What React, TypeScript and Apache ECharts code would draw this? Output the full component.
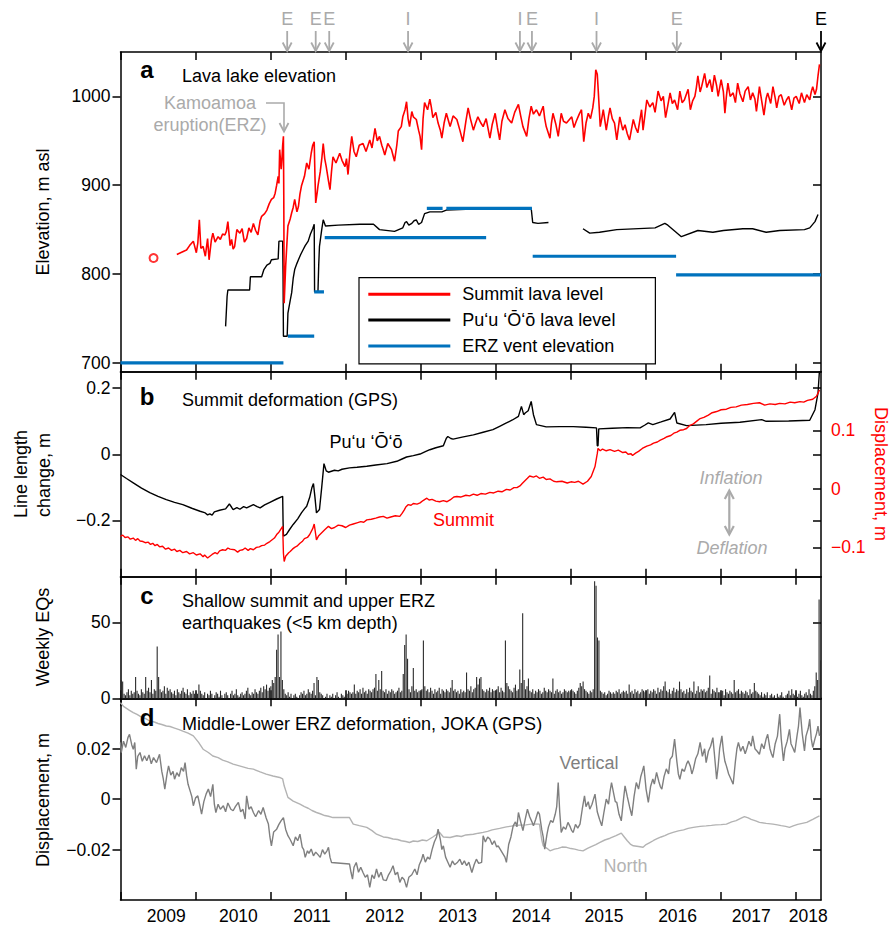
import React, { useEffect, useRef } from 'react';
import * as echarts from 'echarts';

const FONT = '"Liberation Sans", Arial, Helvetica, sans-serif';
const X_MIN = 2009;
const X_MAX = 2018.33;

const yearTicks = [2009, 2010, 2011, 2012, 2013, 2014, 2015, 2016, 2017, 2018];
const yearLabelPositions = [2009.61, 2010.57, 2011.55, 2012.52, 2013.49, 2014.47, 2015.44, 2016.42, 2017.4, 2018.16];
const yearLabels = ['2009', '2010', '2011', '2012', '2013', '2014', '2015', '2016', '2017', '2018'];

// top event arrows
const eventYears = [2011.22, 2011.6, 2011.78, 2012.83, 2014.32, 2014.48, 2015.34, 2016.41, 2018.33];
const eventKinds = ['E', 'E', 'E', 'I', 'I', 'E', 'I', 'E', 'E'];
const eventCurrent = [false, false, false, false, false, false, false, false, true];

// Panel a: summit lava lake level (m asl)
const summitLavaFirst: [number, number][] = [[2009.44, 818]];
const summitLava: [number, number][] = [
  [2009.75,822],[2009.8,824],[2009.85,826],[2009.88,827],[2009.92,832],[2009.97,837],[2010.01,824],[2010.03,835],[2010.05,861],[2010.07,829],[2010.1,831],[2010.13,820],[2010.16,840],[2010.18,816],[2010.21,838],[2010.23,846],[2010.26,836],[2010.3,842],[2010.33,839],[2010.36,845],[2010.39,844],[2010.41,848],[2010.43,859],[2010.46,832],[2010.48,839],[2010.5,828],[2010.52,831],[2010.55,850],[2010.59,846],[2010.62,851],[2010.65,836],[2010.68,840],[2010.71,852],[2010.74,847],[2010.77,857],[2010.8,849],[2010.83,844],[2010.86,860],[2010.88,865],[2010.92,868],[2010.95,872],[2010.98,879],[2011.01,884],[2011.04,886],[2011.06,891],[2011.08,900],[2011.1,910],[2011.11,902],[2011.12,940],[2011.14,918],[2011.15,929],[2011.16,945],[2011.17,955],[2011.175,884],[2011.18,767],[2011.2,809],[2011.22,840],[2011.23,854],[2011.26,862],[2011.28,869],[2011.3,875],[2011.32,884],[2011.35,870],[2011.37,876],[2011.39,890],[2011.41,899],[2011.45,910],[2011.48,925],[2011.51,918],[2011.54,936],[2011.56,945],[2011.58,949],[2011.59,910],[2011.6,880],[2011.62,892],[2011.63,899],[2011.66,915],[2011.68,929],[2011.7,947],[2011.72,930],[2011.74,921],[2011.77,905],[2011.79,895],[2011.81,915],[2011.83,932],[2011.87,925],[2011.92,936],[2011.95,928],[2011.99,921],[2012.01,930],[2012.03,912],[2012.06,940],[2012.08,955],[2012.11,938],[2012.14,932],[2012.18,945],[2012.23,947],[2012.27,938],[2012.32,951],[2012.35,942],[2012.39,964],[2012.42,950],[2012.45,955],[2012.48,945],[2012.5,940],[2012.52,934],[2012.56,947],[2012.61,940],[2012.65,927],[2012.68,945],[2012.7,961],[2012.74,966],[2012.76,977],[2012.79,985],[2012.81,994],[2012.83,975],[2012.85,966],[2012.88,983],[2012.9,977],[2012.94,974],[2012.97,962],[2012.99,955],[2013.01,940],[2013.03,975],[2013.05,993],[2013.09,985],[2013.12,997],[2013.14,988],[2013.16,976],[2013.2,982],[2013.23,970],[2013.26,962],[2013.28,953],[2013.31,970],[2013.34,981],[2013.37,972],[2013.39,966],[2013.43,978],[2013.48,974],[2013.52,962],[2013.56,949],[2013.6,972],[2013.63,987],[2013.66,975],[2013.7,962],[2013.73,970],[2013.76,977],[2013.8,970],[2013.83,966],[2013.87,975],[2013.92,953],[2013.95,968],[2013.99,981],[2014.02,965],[2014.05,951],[2014.08,972],[2014.12,985],[2014.16,975],[2014.21,970],[2014.25,982],[2014.3,991],[2014.33,978],[2014.36,966],[2014.41,955],[2014.44,975],[2014.47,989],[2014.5,980],[2014.54,985],[2014.58,978],[2014.63,989],[2014.65,975],[2014.67,966],[2014.72,953],[2014.74,970],[2014.76,981],[2014.8,968],[2014.83,955],[2014.87,981],[2014.9,972],[2014.94,970],[2015.01,977],[2015.04,965],[2015.07,972],[2015.11,980],[2015.14,985],[2015.17,949],[2015.2,970],[2015.23,981],[2015.26,975],[2015.29,987],[2015.31,1000],[2015.33,1030],[2015.35,1025],[2015.36,1011],[2015.39,966],[2015.41,975],[2015.43,985],[2015.47,962],[2015.5,978],[2015.52,987],[2015.55,975],[2015.58,970],[2015.61,951],[2015.65,977],[2015.69,962],[2015.72,968],[2015.75,958],[2015.78,951],[2015.83,974],[2015.86,965],[2015.89,959],[2015.94,985],[2015.96,962],[2016.01,996],[2016.05,988],[2016.09,993],[2016.12,982],[2016.16,1006],[2016.2,995],[2016.23,1000],[2016.26,976],[2016.29,990],[2016.32,1004],[2016.35,992],[2016.38,996],[2016.42,985],[2016.45,1006],[2016.48,993],[2016.51,996],[2016.56,1008],[2016.59,985],[2016.62,995],[2016.65,1000],[2016.67,1010],[2016.69,1023],[2016.72,1005],[2016.74,1011],[2016.78,1026],[2016.81,1010],[2016.85,1019],[2016.88,1005],[2016.91,1024],[2016.94,1012],[2016.96,1000],[2017.0,1019],[2017.03,1005],[2017.05,981],[2017.07,1000],[2017.09,1015],[2017.12,1000],[2017.16,1004],[2017.19,993],[2017.22,1015],[2017.25,1003],[2017.29,994],[2017.32,1006],[2017.36,1011],[2017.39,996],[2017.42,1004],[2017.45,997],[2017.47,983],[2017.51,1011],[2017.54,995],[2017.57,979],[2017.6,998],[2017.62,1004],[2017.66,992],[2017.69,1011],[2017.72,998],[2017.74,987],[2017.77,1000],[2017.8,1002],[2017.84,990],[2017.87,996],[2017.9,1000],[2017.94,985],[2017.97,998],[2018.0,1000],[2018.04,992],[2018.07,1004],[2018.11,993],[2018.14,1002],[2018.18,996],[2018.2,1005],[2018.22,1011],[2018.25,1002],[2018.27,1008],[2018.29,1023],[2018.31,1036]
];

// Pu'u O'o lava level (two pieces)
const puuOoLavaA: [number, number][] = [
  [2010.4,741],[2010.42,775],[2010.43,782],[2010.72,782],[2010.73,797],[2010.88,797],[2010.91,805],[2010.95,810],[2010.99,812],[2011.01,816],[2011.1,817],[2011.11,837],[2011.16,837],[2011.165,800],[2011.17,730],[2011.22,730],[2011.23,756],[2011.26,770],[2011.28,779],[2011.3,795],[2011.32,805],[2011.35,812],[2011.37,816],[2011.4,822],[2011.43,827],[2011.46,832],[2011.5,837],[2011.53,845],[2011.56,851],[2011.58,856],[2011.585,780],[2011.63,780],[2011.64,810],[2011.65,831],[2011.68,850],[2011.7,861],[2011.73,854],[2011.9,855],[2012.19,856],[2012.37,856],[2012.45,850],[2012.65,848],[2012.76,852],[2012.79,858],[2012.81,859],[2012.84,855],[2012.88,857],[2012.91,860],[2012.94,861],[2012.97,856],[2013.01,858],[2013.05,868],[2013.12,870],[2013.28,870],[2013.34,872],[2013.6,873],[2014.0,873],[2014.47,874],[2014.49,858],[2014.56,857],[2014.7,858]
];
const puuOoLavaB: [number, number][] = [
  [2015.16,851],[2015.25,846],[2015.38,847],[2015.61,850],[2016.12,852],[2016.25,857],[2016.29,855],[2016.47,842],[2016.69,849],[2016.89,847],[2017.03,849],[2017.29,851],[2017.42,851],[2017.6,847],[2017.78,849],[2018.11,850],[2018.18,852],[2018.25,859],[2018.29,867]
];

// ERZ vent elevation segments
const erzVentStart = [2009.0, 2011.23, 2011.58, 2011.72, 2013.08, 2013.34, 2014.49, 2016.4];
const erzVentEnd = [2011.17, 2011.58, 2011.71, 2013.87, 2013.29, 2014.48, 2016.4, 2018.33];
const erzVentElev = [700, 730, 780, 841, 874, 874, 820, 799];

// Panel b: summit GPS
const gpsPuuOoLine: [number, number][] = [
  [2009.0,-0.061],[2009.08,-0.073],[2009.17,-0.086],[2009.28,-0.102],[2009.39,-0.116],[2009.5,-0.127],[2009.61,-0.137],[2009.72,-0.145],[2009.83,-0.152],[2009.95,-0.163],[2010.06,-0.172],[2010.12,-0.176],[2010.16,-0.183],[2010.19,-0.18],[2010.22,-0.184],[2010.25,-0.174],[2010.32,-0.169],[2010.4,-0.165],[2010.45,-0.15],[2010.48,-0.16],[2010.5,-0.167],[2010.55,-0.161],[2010.59,-0.166],[2010.64,-0.158],[2010.68,-0.162],[2010.77,-0.152],[2010.82,-0.158],[2010.86,-0.162],[2010.92,-0.153],[2010.99,-0.145],[2011.08,-0.135],[2011.16,-0.127],[2011.165,-0.2],[2011.17,-0.247],[2011.21,-0.242],[2011.25,-0.228],[2011.3,-0.212],[2011.36,-0.195],[2011.41,-0.177],[2011.45,-0.165],[2011.48,-0.157],[2011.52,-0.13],[2011.55,-0.1],[2011.57,-0.088],[2011.59,-0.13],[2011.61,-0.177],[2011.65,-0.167],[2011.68,-0.1],[2011.71,-0.028],[2011.74,-0.05],[2011.77,-0.054],[2011.85,-0.048],[2011.9,-0.05],[2011.95,-0.045],[2012.05,-0.041],[2012.15,-0.039],[2012.28,-0.036],[2012.4,-0.032],[2012.55,-0.028],[2012.68,-0.021],[2012.75,-0.014],[2012.81,-0.008],[2012.9,-0.004],[2012.99,0.001],[2013.06,0.008],[2013.12,0.014],[2013.2,0.02],[2013.3,0.026],[2013.34,0.049],[2013.36,0.054],[2013.4,0.048],[2013.43,0.046],[2013.55,0.052],[2013.7,0.059],[2013.83,0.067],[2013.96,0.075],[2014.05,0.085],[2014.14,0.095],[2014.22,0.104],[2014.3,0.115],[2014.34,0.145],[2014.37,0.12],[2014.39,0.125],[2014.43,0.132],[2014.47,0.16],[2014.5,0.12],[2014.54,0.09],[2014.67,0.083],[2014.85,0.084],[2015.03,0.084],[2015.2,0.082],[2015.34,0.08],[2015.35,0.026],[2015.36,0.026],[2015.37,0.077],[2015.55,0.079],[2015.75,0.081],[2015.92,0.08],[2015.98,0.088],[2016.03,0.095],[2016.09,0.09],[2016.2,0.098],[2016.32,0.107],[2016.38,0.127],[2016.41,0.095],[2016.54,0.087],[2016.8,0.09],[2017.0,0.094],[2017.25,0.097],[2017.54,0.105],[2017.6,0.1],[2017.9,0.101],[2018.18,0.103],[2018.25,0.135],[2018.29,0.185],[2018.31,0.255]
];
const gpsSummitDisp: [number, number][] = [
  [2009.0,-0.081],[2009.03,-0.079],[2009.06,-0.083],[2009.1,-0.082],[2009.13,-0.086],[2009.17,-0.084],[2009.2,-0.088],[2009.23,-0.085],[2009.26,-0.089],[2009.3,-0.09],[2009.33,-0.092],[2009.37,-0.091],[2009.4,-0.095],[2009.43,-0.093],[2009.46,-0.097],[2009.49,-0.095],[2009.52,-0.099],[2009.56,-0.098],[2009.6,-0.103],[2009.64,-0.101],[2009.68,-0.105],[2009.72,-0.103],[2009.75,-0.107],[2009.79,-0.105],[2009.83,-0.109],[2009.88,-0.107],[2009.92,-0.111],[2009.97,-0.109],[2010.01,-0.113],[2010.06,-0.111],[2010.1,-0.116],[2010.12,-0.113],[2010.16,-0.118],[2010.19,-0.115],[2010.22,-0.112],[2010.26,-0.109],[2010.29,-0.111],[2010.32,-0.106],[2010.36,-0.104],[2010.4,-0.105],[2010.43,-0.101],[2010.46,-0.103],[2010.52,-0.104],[2010.56,-0.108],[2010.59,-0.105],[2010.63,-0.104],[2010.66,-0.101],[2010.7,-0.105],[2010.73,-0.102],[2010.77,-0.104],[2010.81,-0.1],[2010.85,-0.099],[2010.88,-0.097],[2010.92,-0.096],[2010.95,-0.093],[2010.99,-0.09],[2011.02,-0.087],[2011.05,-0.084],[2011.08,-0.078],[2011.11,-0.074],[2011.13,-0.07],[2011.16,-0.064],[2011.17,-0.11],[2011.18,-0.124],[2011.2,-0.115],[2011.22,-0.112],[2011.24,-0.109],[2011.26,-0.107],[2011.29,-0.103],[2011.32,-0.1],[2011.35,-0.098],[2011.39,-0.093],[2011.42,-0.09],[2011.45,-0.085],[2011.49,-0.083],[2011.52,-0.078],[2011.56,-0.068],[2011.58,-0.06],[2011.61,-0.087],[2011.64,-0.08],[2011.68,-0.075],[2011.72,-0.07],[2011.77,-0.064],[2011.81,-0.068],[2011.85,-0.066],[2011.9,-0.062],[2011.95,-0.063],[2012.0,-0.066],[2012.05,-0.062],[2012.1,-0.06],[2012.15,-0.058],[2012.2,-0.056],[2012.24,-0.057],[2012.28,-0.053],[2012.34,-0.052],[2012.4,-0.05],[2012.45,-0.048],[2012.5,-0.047],[2012.55,-0.05],[2012.6,-0.048],[2012.66,-0.046],[2012.72,-0.047],[2012.75,-0.042],[2012.78,-0.036],[2012.8,-0.031],[2012.83,-0.027],[2012.87,-0.028],[2012.9,-0.025],[2012.95,-0.026],[2012.99,-0.024],[2013.03,-0.02],[2013.08,-0.016],[2013.11,-0.019],[2013.15,-0.018],[2013.2,-0.021],[2013.25,-0.022],[2013.3,-0.02],[2013.35,-0.022],[2013.39,-0.019],[2013.44,-0.014],[2013.48,-0.013],[2013.53,-0.014],[2013.6,-0.011],[2013.65,-0.012],[2013.7,-0.009],[2013.75,-0.011],[2013.8,-0.008],[2013.86,-0.009],[2013.92,-0.006],[2013.97,-0.007],[2014.03,-0.004],[2014.08,-0.005],[2014.14,-0.001],[2014.19,-0.002],[2014.24,0.002],[2014.28,0.002],[2014.32,0.005],[2014.35,0.009],[2014.38,0.013],[2014.42,0.018],[2014.45,0.022],[2014.5,0.02],[2014.54,0.022],[2014.58,0.018],[2014.63,0.02],[2014.67,0.016],[2014.72,0.017],[2014.77,0.013],[2014.81,0.012],[2014.88,0.013],[2014.95,0.01],[2015.0,0.012],[2015.05,0.011],[2015.1,0.013],[2015.16,0.008],[2015.22,0.013],[2015.27,0.021],[2015.32,0.038],[2015.35,0.06],[2015.36,0.069],[2015.39,0.065],[2015.42,0.068],[2015.47,0.065],[2015.52,0.067],[2015.58,0.064],[2015.63,0.066],[2015.69,0.062],[2015.73,0.063],[2015.76,0.059],[2015.8,0.06],[2015.82,0.057],[2015.86,0.061],[2015.9,0.064],[2015.95,0.069],[2016.01,0.073],[2016.06,0.075],[2016.1,0.078],[2016.15,0.08],[2016.19,0.083],[2016.24,0.086],[2016.28,0.089],[2016.33,0.091],[2016.37,0.095],[2016.41,0.097],[2016.45,0.1],[2016.5,0.101],[2016.54,0.103],[2016.58,0.108],[2016.63,0.111],[2016.68,0.116],[2016.72,0.12],[2016.77,0.122],[2016.83,0.126],[2016.88,0.13],[2016.94,0.132],[2017.0,0.135],[2017.07,0.136],[2017.13,0.139],[2017.2,0.14],[2017.27,0.143],[2017.35,0.144],[2017.43,0.146],[2017.51,0.147],[2017.58,0.143],[2017.65,0.145],[2017.72,0.144],[2017.78,0.146],[2017.85,0.145],[2017.92,0.148],[2017.98,0.147],[2018.05,0.149],[2018.1,0.148],[2018.15,0.151],[2018.22,0.153],[2018.27,0.158],[2018.31,0.169]
];

// Panel c: weekly earthquakes, weeks from 2009-01-01
const eqStartYear = 2009.0;
const weeklyEQs2009 = [12,11,3,2,4,6,2,5,3,4,14,5,3,2,6,4,3,14,5,7,4,12,3,6,5,34,14,6,4,5,8,3,7,5,6,4,3,5,2,6,4,3,5,7,4,3,6,2,4,3,5,3];
const weeklyEQs2010 = [4,3,9,5,3,2,4,0,3,2,5,3,0,2,4,3,1,5,2,0,3,4,2,0,3,5,2,3,6,2,1,3,4,2,3,5,7,3,2,4,3,6,4,3,5,7,4,8,6,9,5,7];
const weeklyEQs2011 = [8,12,10,14,32,42,14,44,12,6,3,2,4,1,3,0,2,3,1,0,2,4,3,5,2,3,6,4,3,5,10,2,14,12,4,3,2,0,1,3,0,2,1,3,0,2,4,1,0,3,2,1];
const weeklyEQs2012 = [2,3,5,4,3,4,9,3,5,4,6,3,7,4,5,3,6,5,4,6,7,16,5,12,6,18,5,4,6,3,5,4,6,5,3,4,5,7,4,5,16,35,42,26,6,4,8,20,5,6,4,5];
const weeklyEQs2013 = [4,6,38,8,5,6,4,7,5,3,6,4,5,7,3,6,5,4,6,5,4,7,12,5,6,4,5,3,6,4,5,4,17,6,5,8,4,6,7,14,9,13,14,6,5,4,6,5,7,4,6,5];
const weeklyEQs2014 = [5,6,8,4,7,5,4,38,10,8,6,5,4,7,9,5,6,19,10,56,12,6,8,13,5,4,6,3,5,4,6,5,3,4,7,5,4,6,5,4,13,3,5,6,4,5,3,4,6,5,4,5];
const weeklyEQs2015 = [4,6,5,4,3,5,7,10,8,11,6,5,4,3,5,4,6,77,74,40,38,5,4,3,4,2,3,5,4,3,4,3,5,4,6,3,4,5,4,5,3,9,4,5,3,6,4,5,3,4,6,5];
const weeklyEQs2016 = [4,5,6,3,5,4,6,5,3,7,4,6,5,8,11,5,4,6,3,5,7,4,6,5,11,6,4,5,3,6,4,7,5,4,11,3,5,8,4,6,5,6,4,5,7,15,3,6,5,4,7,4];
const weeklyEQs2017 = [4,3,5,2,6,4,3,5,4,3,12,4,5,6,3,5,4,3,5,4,2,6,3,4,10,5,4,3,2,4,1,3,2,4,0,2,3,1,2,0,3,1,2,4,1,0,2,3,5,2,6,3];
const weeklyEQs2018 = [2,4,1,3,5,2,1,3,4,2,6,3,2,5,8,17,12,65,25];

// Panel d: JOKA GPS (m)
const jokaNorth: [number, number][] = [
  [2009.0,0.0383],[2009.04,0.0368],[2009.08,0.036],[2009.12,0.0352],[2009.17,0.0343],[2009.22,0.0336],[2009.28,0.0325],[2009.33,0.032],[2009.39,0.031],[2009.45,0.0306],[2009.5,0.03],[2009.55,0.0296],[2009.61,0.029],[2009.66,0.0288],[2009.72,0.0282],[2009.78,0.0276],[2009.83,0.027],[2009.9,0.0262],[2009.97,0.0251],[2010.04,0.0225],[2010.1,0.0198],[2010.17,0.0185],[2010.23,0.0171],[2010.3,0.0165],[2010.36,0.0155],[2010.43,0.0148],[2010.5,0.0139],[2010.56,0.0134],[2010.63,0.0128],[2010.7,0.0122],[2010.77,0.0119],[2010.86,0.0108],[2010.94,0.0099],[2011.03,0.0092],[2011.12,0.0086],[2011.16,0.008],[2011.18,0.0053],[2011.23,0.0007],[2011.3,-0.0008],[2011.39,-0.002],[2011.45,-0.003],[2011.5,-0.0036],[2011.55,-0.0045],[2011.61,-0.0053],[2011.66,-0.0058],[2011.72,-0.0065],[2011.77,-0.0068],[2011.83,-0.0073],[2012.05,-0.0073],[2012.1,-0.0099],[2012.18,-0.0105],[2012.28,-0.0112],[2012.35,-0.0125],[2012.41,-0.0139],[2012.5,-0.015],[2012.56,-0.0152],[2012.63,-0.0158],[2012.69,-0.016],[2012.74,-0.0165],[2012.8,-0.0168],[2012.85,-0.0172],[2012.9,-0.0166],[2012.96,-0.0168],[2013.02,-0.0162],[2013.08,-0.0165],[2013.16,-0.015],[2013.25,-0.0132],[2013.3,-0.015],[2013.39,-0.0152],[2013.48,-0.0145],[2013.54,-0.0148],[2013.6,-0.0142],[2013.7,-0.0139],[2013.77,-0.0135],[2013.83,-0.0132],[2013.89,-0.0128],[2013.95,-0.0122],[2014.05,-0.0116],[2014.14,-0.011],[2014.23,-0.0106],[2014.31,-0.0103],[2014.4,-0.0102],[2014.49,-0.0098],[2014.58,-0.0099],[2014.61,-0.016],[2014.63,-0.0185],[2014.68,-0.0195],[2014.72,-0.0205],[2014.78,-0.0198],[2014.83,-0.0195],[2014.88,-0.019],[2014.94,-0.0191],[2015.0,-0.0196],[2015.05,-0.0198],[2015.1,-0.0202],[2015.16,-0.0205],[2015.22,-0.0195],[2015.27,-0.0188],[2015.33,-0.018],[2015.38,-0.0172],[2015.45,-0.0162],[2015.52,-0.0155],[2015.6,-0.0145],[2015.67,-0.0135],[2015.71,-0.015],[2015.75,-0.0165],[2015.79,-0.0178],[2015.83,-0.0185],[2015.9,-0.0188],[2015.96,-0.0191],[2016.0,-0.018],[2016.05,-0.0172],[2016.1,-0.0164],[2016.14,-0.0158],[2016.2,-0.015],[2016.25,-0.0145],[2016.3,-0.0138],[2016.36,-0.0132],[2016.43,-0.0126],[2016.5,-0.0122],[2016.56,-0.0116],[2016.63,-0.0112],[2016.72,-0.0108],[2016.8,-0.0106],[2016.87,-0.0104],[2016.93,-0.0102],[2017.0,-0.0101],[2017.07,-0.0099],[2017.14,-0.009],[2017.2,-0.0085],[2017.26,-0.0076],[2017.31,-0.0069],[2017.36,-0.0074],[2017.4,-0.008],[2017.46,-0.0086],[2017.51,-0.0092],[2017.6,-0.0096],[2017.69,-0.0099],[2017.75,-0.0102],[2017.8,-0.0105],[2017.86,-0.0108],[2017.91,-0.0112],[2017.96,-0.0106],[2018.02,-0.01],[2018.08,-0.0096],[2018.14,-0.0092],[2018.22,-0.008],[2018.27,-0.0072],[2018.31,-0.0066]
];
const jokaVertical: [number, number][] = [
  [2009.0,0.0225],[2009.01,0.0185],[2009.04,0.023],[2009.07,0.0205],[2009.1,0.0245],[2009.12,0.0257],[2009.15,0.0215],[2009.17,0.0198],[2009.19,0.0225],[2009.21,0.0119],[2009.23,0.017],[2009.26,0.0185],[2009.29,0.015],[2009.32,0.0172],[2009.35,0.0152],[2009.38,0.0175],[2009.41,0.014],[2009.44,0.0165],[2009.48,0.0145],[2009.52,0.0178],[2009.55,0.011],[2009.57,0.008],[2009.59,0.004],[2009.62,0.01],[2009.64,0.0132],[2009.67,0.0095],[2009.7,0.011],[2009.72,0.0079],[2009.75,0.0105],[2009.78,0.009],[2009.81,0.0125],[2009.84,0.011],[2009.86,0.0145],[2009.88,0.0095],[2009.9,0.0059],[2009.93,0.003],[2009.95,0.001],[2009.97,-0.0026],[2010.0,0.0005],[2010.03,0.0013],[2010.06,-0.003],[2010.08,-0.0059],[2010.11,-0.001],[2010.14,0.002],[2010.17,0.004],[2010.2,0.001],[2010.23,0.0059],[2010.25,-0.002],[2010.27,-0.0053],[2010.3,-0.002],[2010.33,-0.004],[2010.37,-0.0026],[2010.4,-0.005],[2010.43,-0.0015],[2010.47,-0.004],[2010.5,-0.0046],[2010.53,-0.003],[2010.57,-0.0013],[2010.6,-0.005],[2010.63,-0.004],[2010.66,-0.0079],[2010.68,0.0013],[2010.71,-0.004],[2010.74,-0.003],[2010.77,-0.0053],[2010.8,-0.007],[2010.84,-0.0045],[2010.87,-0.006],[2010.9,-0.0033],[2010.94,-0.0075],[2010.97,-0.0099],[2010.99,-0.015],[2011.01,-0.0185],[2011.04,-0.013],[2011.08,-0.0119],[2011.11,-0.01],[2011.14,-0.0085],[2011.17,-0.0073],[2011.2,-0.012],[2011.23,-0.0145],[2011.26,-0.016],[2011.3,-0.0185],[2011.33,-0.015],[2011.36,-0.0165],[2011.39,-0.0139],[2011.42,-0.019],[2011.44,-0.02],[2011.46,-0.0231],[2011.49,-0.0205],[2011.51,-0.0215],[2011.54,-0.0198],[2011.57,-0.0225],[2011.6,-0.021],[2011.63,-0.022],[2011.66,-0.0231],[2011.69,-0.02],[2011.72,-0.0218],[2011.75,-0.0205],[2011.77,-0.0191],[2011.79,-0.023],[2011.81,-0.0251],[2012.05,-0.0257],[2012.07,-0.029],[2012.09,-0.0317],[2012.11,-0.027],[2012.14,-0.0251],[2012.17,-0.029],[2012.2,-0.027],[2012.23,-0.0291],[2012.26,-0.031],[2012.29,-0.03],[2012.32,-0.035],[2012.35,-0.03],[2012.38,-0.0315],[2012.41,-0.0277],[2012.44,-0.031],[2012.47,-0.029],[2012.5,-0.032],[2012.54,-0.0323],[2012.57,-0.03],[2012.6,-0.0285],[2012.63,-0.0264],[2012.66,-0.03],[2012.69,-0.029],[2012.72,-0.033],[2012.75,-0.031],[2012.78,-0.032],[2012.81,-0.035],[2012.84,-0.031],[2012.88,-0.03],[2012.92,-0.0277],[2012.95,-0.03],[2012.98,-0.026],[2013.01,-0.024],[2013.03,-0.0218],[2013.06,-0.025],[2013.09,-0.023],[2013.12,-0.0238],[2013.15,-0.02],[2013.18,-0.017],[2013.21,-0.015],[2013.23,-0.0119],[2013.26,-0.016],[2013.28,-0.02],[2013.3,-0.0185],[2013.33,-0.023],[2013.36,-0.025],[2013.39,-0.027],[2013.42,-0.0245],[2013.45,-0.026],[2013.49,-0.025],[2013.52,-0.0238],[2013.55,-0.026],[2013.58,-0.0245],[2013.61,-0.0264],[2013.64,-0.025],[2013.68,-0.0291],[2013.71,-0.026],[2013.74,-0.0238],[2013.77,-0.0255],[2013.81,-0.0251],[2013.83,-0.0145],[2013.86,-0.017],[2013.89,-0.015],[2013.92,-0.0158],[2013.95,-0.018],[2013.98,-0.0165],[2014.01,-0.019],[2014.03,-0.0185],[2014.06,-0.02],[2014.09,-0.0215],[2014.12,-0.023],[2014.14,-0.0251],[2014.17,-0.018],[2014.2,-0.015],[2014.23,-0.0106],[2014.26,-0.009],[2014.28,-0.011],[2014.3,-0.0053],[2014.33,-0.009],[2014.36,-0.0125],[2014.39,-0.008],[2014.42,-0.004],[2014.45,-0.007],[2014.48,-0.009],[2014.5,-0.0106],[2014.53,-0.008],[2014.56,-0.005],[2014.58,-0.0059],[2014.61,-0.012],[2014.63,-0.015],[2014.65,-0.0198],[2014.68,-0.014],[2014.7,-0.011],[2014.73,-0.0085],[2014.76,-0.0092],[2014.79,-0.006],[2014.81,-0.003],[2014.83,0.0066],[2014.85,-0.005],[2014.87,-0.0132],[2014.9,-0.011],[2014.93,-0.012],[2014.96,-0.0092],[2014.99,-0.011],[2015.01,-0.0125],[2015.03,-0.0132],[2015.06,-0.01],[2015.09,-0.0115],[2015.12,-0.0099],[2015.15,-0.004],[2015.18,0.0013],[2015.2,-0.003],[2015.23,-0.001],[2015.25,-0.004],[2015.28,-0.002],[2015.3,0.0],[2015.32,0.002],[2015.35,-0.005],[2015.38,-0.008],[2015.41,-0.0106],[2015.44,-0.005],[2015.47,0.0],[2015.5,-0.002],[2015.52,0.003],[2015.54,0.0066],[2015.57,0.002],[2015.59,-0.001],[2015.61,-0.0013],[2015.64,-0.006],[2015.67,-0.0086],[2015.7,0.0],[2015.72,0.0053],[2015.75,0.001],[2015.78,-0.003],[2015.81,-0.0066],[2015.84,0.001],[2015.87,0.0066],[2015.9,0.004],[2015.93,0.009],[2015.95,0.011],[2015.97,0.0132],[2016.0,0.004],[2016.03,-0.0013],[2016.06,0.005],[2016.09,0.008],[2016.11,0.006],[2016.14,0.0106],[2016.17,0.007],[2016.19,0.005],[2016.21,0.004],[2016.24,0.009],[2016.27,0.012],[2016.3,0.01],[2016.32,0.0158],[2016.35,0.017],[2016.38,0.0238],[2016.41,0.015],[2016.43,0.01],[2016.45,0.0079],[2016.48,0.012],[2016.51,0.011],[2016.54,0.014],[2016.56,0.0152],[2016.59,0.013],[2016.61,0.01],[2016.63,0.0119],[2016.66,0.016],[2016.69,0.018],[2016.72,0.0225],[2016.75,0.017],[2016.78,0.02],[2016.8,0.0145],[2016.83,0.019],[2016.86,0.021],[2016.89,0.0244],[2016.91,0.018],[2016.94,0.0079],[2016.96,0.013],[2016.98,0.02],[2017.01,0.0251],[2017.03,0.019],[2017.05,0.015],[2017.07,0.0132],[2017.1,0.01],[2017.13,0.008],[2017.16,0.0059],[2017.19,0.015],[2017.21,0.02],[2017.23,0.0225],[2017.26,0.019],[2017.29,0.021],[2017.32,0.018],[2017.34,0.0198],[2017.37,0.023],[2017.4,0.021],[2017.42,0.0251],[2017.45,0.02],[2017.48,0.019],[2017.51,0.0178],[2017.54,0.022],[2017.57,0.02],[2017.6,0.024],[2017.62,0.0257],[2017.65,0.02],[2017.67,0.018],[2017.69,0.0165],[2017.72,0.022],[2017.75,0.025],[2017.78,0.0337],[2017.8,0.024],[2017.83,0.0152],[2017.85,0.02],[2017.88,0.023],[2017.91,0.0277],[2017.93,0.022],[2017.96,0.02],[2017.98,0.0185],[2018.01,0.025],[2018.03,0.029],[2018.05,0.0363],[2018.08,0.026],[2018.11,0.0191],[2018.13,0.025],[2018.16,0.028],[2018.18,0.0317],[2018.2,0.024],[2018.22,0.0205],[2018.25,0.024],[2018.27,0.026],[2018.29,0.029],[2018.31,0.0251]
];

const RED = '#ff0000';
const BLUE = '#0072BD';
const GRAY_TXT = '#aaaaaa';
const DARK_GRAY = '#7f7f7f';
const LIGHT_GRAY = '#b3b3b3';

const fmtSigned = (v: number) => (v < 0 ? '\u2212' + String(Math.abs(v)) : String(v));

function buildOption() {
  const weekly = [
    ...weeklyEQs2009, ...weeklyEQs2010, ...weeklyEQs2011, ...weeklyEQs2012, ...weeklyEQs2013,
    ...weeklyEQs2014, ...weeklyEQs2015, ...weeklyEQs2016, ...weeklyEQs2017, ...weeklyEQs2018,
  ];
  const weekLen = 7 / 365.25;
  const eqData = weekly.map((v, i) => [eqStartYear + (i + 0.5) * weekLen, v]);

  const LEFT = 120.5;
  const RIGHT = 69;
  const grids = [
    { left: LEFT, right: RIGHT, top: 52, height: 319.7 },
    { left: LEFT, right: RIGHT, top: 371.7, height: 205 },
    { left: LEFT, right: RIGHT, top: 576.7, height: 121.6 },
    { left: LEFT, right: RIGHT, top: 698.3, height: 203.4 },
  ];

  const axisLine = { show: true, onZero: false, lineStyle: { color: '#000', width: 1.5 } };
  const xAx = (g: number, position: string, labels: boolean) => ({
    type: 'value', gridIndex: g, min: X_MIN, max: X_MAX, position,
    axisLine,
    axisTick: { show: true, inside: true, length: 8, customValues: yearTicks, lineStyle: { color: '#000', width: 1.5 } },
    axisLabel: labels
      ? {
          show: true, customValues: yearLabelPositions, margin: 7, fontSize: 17.5, color: '#000', fontFamily: FONT,
          formatter: (v: number) => {
            const i = yearLabelPositions.findIndex((p) => Math.abs(p - v) < 1e-6);
            return i >= 0 ? yearLabels[i] : '';
          },
        }
      : { show: false },
    splitLine: { show: false },
  });
  const yAx = (g: number, position: string, min: number, max: number, ticks: number[], opts: any = {}) => ({
    type: 'value', gridIndex: g, min, max, position,
    axisLine: opts.noLine ? { show: false } : axisLine,
    axisTick: { show: true, inside: !!opts.inside, length: 8, customValues: ticks, lineStyle: { color: '#000', width: 1.5 } },
    axisLabel: opts.labels
      ? { show: true, customValues: ticks, margin: 10, fontSize: 17.5, color: opts.labelColor || '#000', fontFamily: FONT, formatter: fmtSigned }
      : { show: false },
    splitLine: { show: false },
  });

  const xAxis = [
    xAx(0, 'bottom', false), xAx(0, 'top', false),
    xAx(1, 'bottom', false), xAx(1, 'top', false),
    xAx(2, 'bottom', false), xAx(2, 'top', false),
    xAx(3, 'bottom', true), xAx(3, 'top', false),
  ];
  const yAxis = [
    yAx(0, 'left', 690, 1050, [700, 800, 900, 1000], { labels: true }),
    yAx(0, 'right', 690, 1050, [700, 800, 900, 1000], { inside: true }),
    yAx(1, 'left', -0.37, 0.25, [-0.2, 0, 0.2], { labels: true }),
    yAx(1, 'right', -0.15, 0.2, [-0.1, 0, 0.1], { inside: true, labels: true, labelColor: RED, noLine: true }),
    yAx(1, 'right', -0.37, 0.25, [-0.2, 0, 0.2], { inside: true }),
    yAx(2, 'left', 0, 80, [0, 50], { labels: true }),
    yAx(2, 'right', 0, 80, [0, 50], { inside: true }),
    yAx(3, 'left', -0.04, 0.04, [-0.02, 0, 0.02], { labels: true }),
    yAx(3, 'right', -0.04, 0.04, [-0.02, 0, 0.02], { inside: true }),
  ];

  const lineS = (name: string, data: any, color: string, width: number, xi: number, yi: number, z = 2) => ({
    type: 'line', name, data, xAxisIndex: xi, yAxisIndex: yi, color,
    showSymbol: false, symbol: 'none', lineStyle: { color, width }, silent: true, z,
  });

  const series: any[] = [
    lineS('Summit lava level', summitLava, RED, 1.6, 0, 0, 3),
    {
      type: 'scatter', name: 'firstLava', data: summitLavaFirst, xAxisIndex: 0, yAxisIndex: 0,
      symbol: 'emptyCircle', symbolSize: 8, itemStyle: { color: RED, borderColor: RED, borderWidth: 1.5 }, silent: true,
    },
    lineS('Pu\u2018u \u2018\u014C\u2018\u014D lava level', puuOoLavaA, '#000', 1.4, 0, 0),
    lineS('Pu\u2018u \u2018\u014C\u2018\u014D lava level', puuOoLavaB, '#000', 1.4, 0, 0),
    ...erzVentStart.map((s, i) =>
      lineS('ERZ vent elevation', [[s, erzVentElev[i]], [erzVentEnd[i], erzVentElev[i]]], BLUE, 3.2, 0, 0, 4)
    ),
    {
      type: 'custom', name: 'events', xAxisIndex: 0, yAxisIndex: 0, clip: false, silent: true, z: 10,
      data: eventYears.map((y) => [y, 1050]),
      renderItem: (params: any, api: any) => {
        const p = api.coord([api.value(0), api.value(1)]);
        const i = params.dataIndex;
        const c = eventCurrent[i] ? '#000' : GRAY_TXT;
        const x = p[0];
        const y = p[1];
        return {
          type: 'group',
          children: [
            {
              type: 'text',
              style: {
                text: eventKinds[i], x, y: y - 33, fill: c, font: `18px ${FONT}`,
                align: 'center', verticalAlign: 'middle', textAlign: 'center', textVerticalAlign: 'middle',
              },
            },
            { type: 'line', shape: { x1: x, y1: y - 21, x2: x, y2: y - 1 }, style: { stroke: c, lineWidth: 1.8 } },
            {
              type: 'polyline',
              shape: { points: [[x - 4.5, y - 9.5], [x, y - 1], [x + 4.5, y - 9.5]] },
              style: { stroke: c, fill: 'none', lineWidth: 1.8 },
            },
          ],
        };
      },
    },
    lineS('gpsPuuOo', gpsPuuOoLine, '#000', 1.4, 2, 2),
    lineS('gpsSummit', gpsSummitDisp, RED, 1.4, 2, 3),
    {
      type: 'bar', name: 'eq', data: eqData, xAxisIndex: 4, yAxisIndex: 5, barWidth: 1.1,
      itemStyle: { color: '#2b2b2b' }, silent: true,
    },
    lineS('north', jokaNorth, LIGHT_GRAY, 1.4, 6, 7),
    lineS('vertical', jokaVertical, DARK_GRAY, 1.4, 6, 7, 3),
  ];

  const t = (x: number, y: number, text: string, o: any = {}) => ({
    type: 'text', x, y, rotation: o.rotation || 0, silent: true, z: 100,
    style: {
      text, fill: o.color || '#000',
      font: `${o.italic ? 'italic ' : ''}${o.bold ? 'bold ' : ''}${o.size || 18}px ${FONT}`,
      align: o.align || 'left', verticalAlign: 'middle',
      textAlign: o.align || 'left', textVerticalAlign: 'middle',
    },
  });

  const graphic: any[] = [
    t(147, 69, 'a', { bold: true, size: 24, align: 'center' }),
    t(182, 76, 'Lava lake elevation'),
    t(210, 103, 'Kamoamoa', { color: GRAY_TXT, align: 'center' }),
    t(210, 125, 'eruption(ERZ)', { color: GRAY_TXT, align: 'center' }),
    { type: 'polyline', silent: true, shape: { points: [[266, 103], [284, 103], [284, 131]] }, style: { stroke: GRAY_TXT, fill: 'none', lineWidth: 1.6 } },
    { type: 'polyline', silent: true, shape: { points: [[279.5, 123], [284, 131.5], [288.5, 123]] }, style: { stroke: GRAY_TXT, fill: 'none', lineWidth: 1.8 } },
    t(147, 396, 'b', { bold: true, size: 24, align: 'center' }),
    t(182, 400, 'Summit deformation (GPS)'),
    t(366, 442, 'Pu\u2018u \u2018\u014C\u2018\u014D', { align: 'center' }),
    t(463.5, 520, 'Summit', { color: RED, align: 'center' }),
    t(731, 478, 'Inflation', { color: GRAY_TXT, italic: true, align: 'center' }),
    t(732, 548, 'Deflation', { color: GRAY_TXT, italic: true, align: 'center' }),
    { type: 'line', silent: true, shape: { x1: 729.3, y1: 491, x2: 729.3, y2: 534 }, style: { stroke: GRAY_TXT, lineWidth: 2.2 } },
    { type: 'polyline', silent: true, shape: { points: [[724.8, 499], [729.3, 490.5], [733.8, 499]] }, style: { stroke: GRAY_TXT, fill: 'none', lineWidth: 2.2 } },
    { type: 'polyline', silent: true, shape: { points: [[724.8, 526], [729.3, 534.5], [733.8, 526]] }, style: { stroke: GRAY_TXT, fill: 'none', lineWidth: 2.2 } },
    t(147, 595, 'c', { bold: true, size: 24, align: 'center' }),
    t(182, 601, 'Shallow summit and upper ERZ'),
    t(182, 623, 'earthquakes (<5 km depth)'),
    t(147, 717, 'd', { bold: true, size: 24, align: 'center' }),
    t(182, 724, 'Middle-Lower ERZ deformation, JOKA (GPS)'),
    t(589, 763, 'Vertical', { color: DARK_GRAY, align: 'center' }),
    t(625.5, 866, 'North', { color: LIGHT_GRAY, align: 'center' }),
    t(43, 212, 'Elevation, m asl', { rotation: Math.PI / 2, align: 'center' }),
    t(21, 474, 'Line length', { rotation: Math.PI / 2, align: 'center' }),
    t(44, 475, 'change, m', { rotation: Math.PI / 2, align: 'center' }),
    t(43, 637, 'Weekly EQs', { rotation: Math.PI / 2, align: 'center' }),
    t(43, 800, 'Displacement, m', { rotation: Math.PI / 2, align: 'center' }),
    t(881, 474, 'Displacement, m', { rotation: -Math.PI / 2, align: 'center', color: RED }),
  ];

  return {
    animation: false,
    backgroundColor: '#fff',
    textStyle: { fontFamily: FONT },
    grid: grids,
    xAxis,
    yAxis,
    legend: {
      show: true,
      orient: 'vertical',
      left: 359,
      top: 277.7,
      itemWidth: 82,
      itemHeight: 3,
      itemGap: 7.8,
      icon: 'rect',
      selectedMode: false,
      borderColor: '#000',
      borderWidth: 1.2,
      padding: [7.6, 40, 9, 9.3],
      backgroundColor: '#fff',
      textStyle: { fontSize: 18, color: '#000', fontFamily: FONT, lineHeight: 18, padding: [0, 0, 0, 7] },
      data: ['Summit lava level', 'Pu\u2018u \u2018\u014C\u2018\u014D lava level', 'ERZ vent elevation'],
      z: 20,
    },
    series,
    graphic,
  };
}

export default function App() {
  const ref = useRef<HTMLDivElement>(null);
  useEffect(() => {
    if (!ref.current) return;
    const chart = echarts.init(ref.current, null, { renderer: 'svg' });
    chart.setOption(buildOption() as any);
    return () => chart.dispose();
  }, []);
  return (
    <div
      ref={ref}
      style={{ position: 'fixed', left: 0, top: 0, width: 890, height: 925, background: '#fff' }}
    />
  );
}
